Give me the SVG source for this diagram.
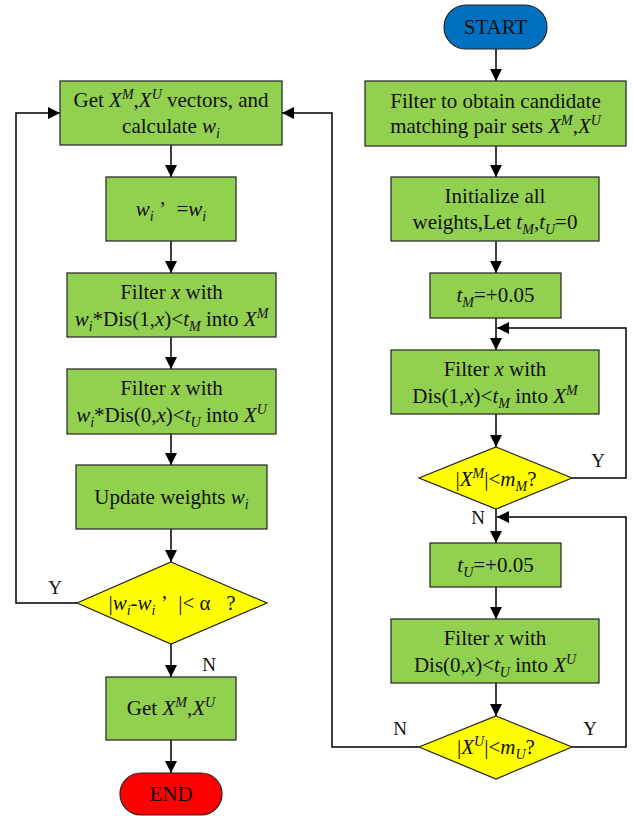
<svg xmlns="http://www.w3.org/2000/svg" width="633" height="816" viewBox="0 0 633 816">
<defs>
<marker id="ah" markerUnits="userSpaceOnUse" markerWidth="12" markerHeight="12" viewBox="0 0 12 12" refX="12" refY="6" orient="auto">
<path d="M0,0 L12,6 L0,12 Z" fill="#000"/>
</marker>
<style>
.box{fill:#92D050;stroke:#222;stroke-width:1.2}
.dia{fill:#FFFF00;stroke:#222;stroke-width:1.2}
.t{font-family:"Liberation Serif","Times New Roman","DejaVu Serif",serif;font-size:21px;fill:#111;text-anchor:middle}
.l{font-family:"Liberation Serif","Times New Roman","DejaVu Serif",serif;font-size:19px;fill:#111;text-anchor:middle}
.i{font-style:italic}
.s{font-size:14px;font-style:italic}
.c{fill:none;stroke:#000;stroke-width:1.5;marker-end:url(#ah)}
</style>
</defs>

<g id="connectors">
<line class="c" x1="496" y1="49" x2="496" y2="81"/>
<line class="c" x1="496" y1="146" x2="496" y2="177"/>
<line class="c" x1="496" y1="241" x2="496" y2="273"/>
<line class="c" x1="496" y1="318" x2="496" y2="350"/>
<line class="c" x1="496" y1="414" x2="496" y2="447"/>
<polyline class="c" points="572,478 626,478 626,328 497,328"/>
<line class="c" x1="496" y1="509" x2="496" y2="543"/>
<polyline class="c" points="572,747 626,747 626,517 497,517"/>
<line class="c" x1="496" y1="587" x2="496" y2="619"/>
<line class="c" x1="496" y1="683" x2="496" y2="716"/>
<polyline class="c" points="419,747 332,747 332,113 282,113"/>
<line class="c" x1="171" y1="145" x2="171" y2="177"/>
<line class="c" x1="171" y1="241" x2="171" y2="273"/>
<line class="c" x1="171" y1="337" x2="171" y2="369"/>
<line class="c" x1="171" y1="434" x2="171" y2="465"/>
<line class="c" x1="171" y1="529" x2="171" y2="562"/>
<polyline class="c" points="77,603 16,603 16,113 60,113"/>
<line class="c" x1="171" y1="644" x2="171" y2="677"/>
<line class="c" x1="171" y1="740" x2="171" y2="773"/>
<text class="l" x="55" y="594">Y</text>
<text class="l" x="209" y="671">N</text>
<text class="l" x="598" y="467">Y</text>
<text class="l" x="478" y="524">N</text>
<text class="l" x="400" y="735">N</text>
<text class="l" x="590" y="735">Y</text>
</g>

<g id="start">
<rect x="444" y="5" width="103" height="44" rx="22" fill="#0070C0" stroke="#222" stroke-width="1.2"/>
<text class="t" x="495.5" y="34">START</text>
</g>

<g id="filter-candidates">
<rect class="box" x="365" y="81" width="261" height="65"/>
<text class="t" x="495.5" y="108">Filter to obtain candidate</text>
<text class="t" x="495.5" y="133">matching pair sets <tspan class="i">X</tspan><tspan class="s" dy="-8">M</tspan><tspan dy="8">,</tspan><tspan class="i">X</tspan><tspan class="s" dy="-8">U</tspan></text>
</g>

<g id="initialize">
<rect class="box" x="391" y="177" width="208" height="64"/>
<text class="t" x="495" y="203">Initialize all</text>
<text class="t" x="495" y="229">weights,Let <tspan class="i">t</tspan><tspan class="s" dy="5">M</tspan><tspan dy="-5">,</tspan><tspan class="i">t</tspan><tspan class="s" dy="5">U</tspan><tspan dy="-5">=0</tspan></text>
</g>

<g id="tm-inc">
<rect class="box" x="430" y="273" width="131" height="45"/>
<text class="t" x="495.5" y="302"><tspan class="i">t</tspan><tspan class="s" dy="5">M</tspan><tspan dy="-5">=+0.05</tspan></text>
</g>

<g id="filter-m">
<rect class="box" x="391" y="350" width="208" height="64"/>
<text class="t" x="495" y="376">Filter <tspan class="i">x</tspan> with</text>
<text class="t" x="495" y="403">Dis(1,<tspan class="i">x</tspan>)&lt;<tspan class="i">t</tspan><tspan class="s" dy="5">M</tspan><tspan dy="-5"> into </tspan><tspan class="i">X</tspan><tspan class="s" dy="-8">M</tspan></text>
</g>

<g id="check-m">
<polygon class="dia" points="496,447 572,478 496,509 419,478"/>
<text class="t" x="496" y="486">|<tspan class="i">X</tspan><tspan class="s" dy="-8">M</tspan><tspan dy="8">|&lt;</tspan><tspan class="i">m</tspan><tspan class="s" dy="5">M</tspan><tspan dy="-5">?</tspan></text>
</g>

<g id="tu-inc">
<rect class="box" x="430" y="543" width="131" height="44"/>
<text class="t" x="495.5" y="572"><tspan class="i">t</tspan><tspan class="s" dy="5">U</tspan><tspan dy="-5">=+0.05</tspan></text>
</g>

<g id="filter-u">
<rect class="box" x="391" y="619" width="208" height="64"/>
<text class="t" x="495" y="645">Filter <tspan class="i">x</tspan> with</text>
<text class="t" x="495" y="672">Dis(0,<tspan class="i">x</tspan>)&lt;<tspan class="i">t</tspan><tspan class="s" dy="5">U</tspan><tspan dy="-5"> into </tspan><tspan class="i">X</tspan><tspan class="s" dy="-8">U</tspan></text>
</g>

<g id="check-u">
<polygon class="dia" points="496,716 572,747 496,779 419,747"/>
<text class="t" x="496" y="754">|<tspan class="i">X</tspan><tspan class="s" dy="-8">U</tspan><tspan dy="8">|&lt;</tspan><tspan class="i">m</tspan><tspan class="s" dy="5">U</tspan><tspan dy="-5">?</tspan></text>
</g>

<g id="get-vectors">
<rect class="box" x="60" y="81" width="222" height="64"/>
<text class="t" x="171" y="107">Get <tspan class="i">X</tspan><tspan class="s" dy="-8">M</tspan><tspan dy="8">,</tspan><tspan class="i">X</tspan><tspan class="s" dy="-8">U</tspan><tspan dy="8"> vectors, and</tspan></text>
<text class="t" x="171" y="133">calculate <tspan class="i">w</tspan><tspan class="s" dy="5">i</tspan></text>
</g>

<g id="save-weights">
<rect class="box" x="106" y="177" width="130" height="64"/>
<text class="t" x="171" y="216"><tspan class="i">w</tspan><tspan class="s" dy="5">i</tspan><tspan dy="-5">&#160;’&#160;&#160;=</tspan><tspan class="i">w</tspan><tspan class="s" dy="5">i</tspan></text>
</g>

<g id="filter-wm">
<rect class="box" x="67" y="273" width="209" height="64"/>
<text class="t" x="171.5" y="299">Filter <tspan class="i">x</tspan> with</text>
<text class="t" x="171.5" y="326"><tspan class="i">w</tspan><tspan class="s" dy="5">i</tspan><tspan dy="-5">*Dis(1,</tspan><tspan class="i">x</tspan>)&lt;<tspan class="i">t</tspan><tspan class="s" dy="5">M</tspan><tspan dy="-5"> into </tspan><tspan class="i">X</tspan><tspan class="s" dy="-8">M</tspan></text>
</g>

<g id="filter-wu">
<rect class="box" x="67" y="369" width="209" height="65"/>
<text class="t" x="171.5" y="395">Filter <tspan class="i">x</tspan> with</text>
<text class="t" x="171.5" y="422"><tspan class="i">w</tspan><tspan class="s" dy="5">i</tspan><tspan dy="-5">*Dis(0,</tspan><tspan class="i">x</tspan>)&lt;<tspan class="i">t</tspan><tspan class="s" dy="5">U</tspan><tspan dy="-5"> into </tspan><tspan class="i">X</tspan><tspan class="s" dy="-8">U</tspan></text>
</g>

<g id="update-weights">
<rect class="box" x="76" y="465" width="191" height="64"/>
<text class="t" x="171.5" y="504">Update weights <tspan class="i">w</tspan><tspan class="s" dy="5">i</tspan></text>
</g>

<g id="check-converge">
<polygon class="dia" points="171,562 267,603 171,644 77,603"/>
<text class="t" x="172" y="610">|<tspan class="i">w</tspan><tspan class="s" dy="5">i</tspan><tspan dy="-5">-</tspan><tspan class="i">w</tspan><tspan class="s" dy="5">i</tspan><tspan dy="-5">&#160;’&#160;&#160;|&lt; α&#160;&#160;&#160;?</tspan></text>
</g>

<g id="get-result">
<rect class="box" x="106" y="677" width="130" height="63"/>
<text class="t" x="171" y="715">Get <tspan class="i">X</tspan><tspan class="s" dy="-8">M</tspan><tspan dy="8">,</tspan><tspan class="i">X</tspan><tspan class="s" dy="-8">U</tspan></text>
</g>

<g id="end">
<rect x="120" y="773" width="102" height="42" rx="21" fill="#FF0000" stroke="#222" stroke-width="1.2"/>
<text class="t" x="171" y="801">END</text>
</g>
</svg>
